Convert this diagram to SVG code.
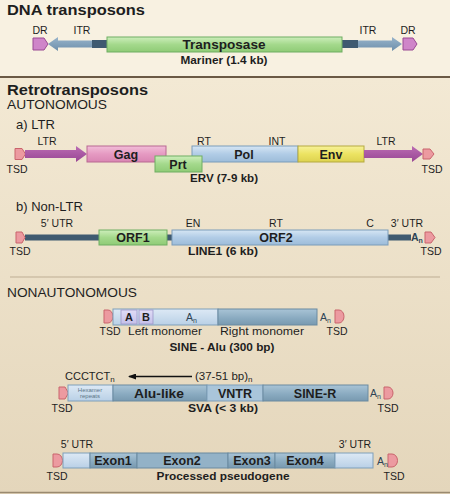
<svg xmlns="http://www.w3.org/2000/svg" width="450" height="494" viewBox="0 0 450 494">
<defs>
<linearGradient id="bg" x1="0" y1="0" x2="0" y2="1"><stop offset="0" stop-color="#f3e9d4"/><stop offset="1" stop-color="#e4d6bb"/></linearGradient>
<linearGradient id="gGreen" x1="0" y1="0" x2="0" y2="1"><stop offset="0" stop-color="#cdeebb"/><stop offset="0.5" stop-color="#a4d98c"/><stop offset="1" stop-color="#8fcb76"/></linearGradient>
<linearGradient id="gBlue" x1="0" y1="0" x2="0" y2="1"><stop offset="0" stop-color="#d6e6f4"/><stop offset="0.5" stop-color="#b1cce6"/><stop offset="1" stop-color="#9dbcd9"/></linearGradient>
<linearGradient id="gPink" x1="0" y1="0" x2="0" y2="1"><stop offset="0" stop-color="#f2bdd8"/><stop offset="0.5" stop-color="#e59ac2"/><stop offset="1" stop-color="#d986b3"/></linearGradient>
<linearGradient id="gYellow" x1="0" y1="0" x2="0" y2="1"><stop offset="0" stop-color="#f7f29a"/><stop offset="0.5" stop-color="#ece362"/><stop offset="1" stop-color="#ddd24f"/></linearGradient>
<linearGradient id="gSteel" x1="0" y1="0" x2="0" y2="1"><stop offset="0" stop-color="#98b4cb"/><stop offset="1" stop-color="#6e8fab"/></linearGradient>
<linearGradient id="gTeal" x1="0" y1="0" x2="0" y2="1"><stop offset="0" stop-color="#a9c4d6"/><stop offset="0.6" stop-color="#88a9bf"/><stop offset="1" stop-color="#7899b0"/></linearGradient>
<linearGradient id="gLight" x1="0" y1="0" x2="0" y2="1"><stop offset="0" stop-color="#dde9f5"/><stop offset="1" stop-color="#b9d0e6"/></linearGradient>
<linearGradient id="gLav" x1="0" y1="0" x2="0" y2="1"><stop offset="0" stop-color="#e0dcf6"/><stop offset="1" stop-color="#c4bfe9"/></linearGradient>
<linearGradient id="gPurple" x1="0" y1="0" x2="0" y2="1"><stop offset="0" stop-color="#bb6cb3"/><stop offset="1" stop-color="#984694"/></linearGradient>
<marker id="ah" markerWidth="8" markerHeight="6" refX="7" refY="3" orient="auto" markerUnits="userSpaceOnUse"><path d="M0,0 L8,3 L0,6 z" fill="#111"/></marker>
</defs>
<style>
text{font-family:"Liberation Sans",Arial,Helvetica,sans-serif;fill:#1e1e1e}
.t{font-size:14px;font-weight:bold}
.h{font-size:13px}
.l{font-size:10.5px}
.b{font-size:12.5px;font-weight:bold}
.c{font-size:11px;font-weight:bold}
.m{text-anchor:middle}
.sub{font-size:7px}
.an{font-size:10.5px;fill:#2e4455}
.grn{fill:url(#gGreen);stroke:#6fae62;stroke-width:1}
.blu{fill:url(#gBlue);stroke:#7b9cba;stroke-width:1}
.pnk{fill:url(#gPink);stroke:#b86892;stroke-width:1}
.yel{fill:url(#gYellow);stroke:#b5aa40;stroke-width:1}
.teal{fill:url(#gTeal);stroke:#6a8aa0;stroke-width:1}
.lt{fill:url(#gLight);stroke:#7f9fba;stroke-width:1}
.lav{fill:url(#gLav);stroke:#9c96c8;stroke-width:0.8}
.steel{fill:url(#gSteel)}
.dark{fill:#3f5a70}
.purp{fill:url(#gPurple)}
.dr{fill:#cf85c9;stroke:#9a4a93;stroke-width:1}
.tsd{fill:#ec9aa0;stroke:#c9646c;stroke-width:1}
</style>

<!-- background -->
<rect x="0" y="0" width="450" height="78" fill="#f8f1e1"/>
<rect x="0" y="78" width="450" height="416" fill="url(#bg)"/>
<line x1="0" y1="77" x2="450" y2="77" stroke="#6b5a45" stroke-width="2"/>
<line x1="10" y1="277" x2="440" y2="277" stroke="#bdae93" stroke-width="1.2"/>
<line x1="0" y1="492.5" x2="450" y2="492.5" stroke="#9a8a70" stroke-width="1.5"/>

<!-- section titles -->
<text class="t" x="7" y="15" textLength="138" lengthAdjust="spacingAndGlyphs">DNA transposons</text>
<text class="t" x="7" y="95" textLength="141" lengthAdjust="spacingAndGlyphs">Retrotransposons</text>
<text class="h" x="7" y="109" textLength="100" lengthAdjust="spacingAndGlyphs">AUTONOMOUS</text>
<text class="h" x="16" y="129">a) LTR</text>
<text class="h" x="16" y="211">b) Non-LTR</text>
<text class="h" x="7" y="297" textLength="130" lengthAdjust="spacingAndGlyphs">NONAUTONOMOUS</text>

<!-- connectors / backbone lines -->
<g id="connectors">
  <rect class="dark" x="92" y="40" width="16" height="8"/>
  <rect class="dark" x="342" y="40" width="16" height="8"/>
  <rect class="dark" x="25" y="234.5" width="75" height="6"/>
  <rect class="dark" x="166" y="234.5" width="7" height="6"/>
  <rect class="dark" x="387" y="234.5" width="24" height="6"/>
  <line x1="192" y1="376.5" x2="129" y2="376.5" stroke="#111" stroke-width="1.3" marker-end="url(#ah)"/>
</g>

<!-- DNA transposon: Mariner -->
<g id="mariner">
  <polygon class="dr" points="33,38 44,38 48,44 44,50 33,50"/>
  <polygon class="steel" points="48,44 58,37 58,40.5 92,40.5 92,47.5 58,47.5 58,51"/>
  <rect class="grn" x="107" y="37" width="235" height="15"/>
  <polygon class="steel" points="402,44 392,37 392,40.5 358,40.5 358,47.5 392,47.5 392,51"/>
  <polygon class="dr" points="403,38 413,38 417,44 413,50 403,50"/>
  <text class="l m" x="40" y="34">DR</text>
  <text class="l m" x="82" y="34">ITR</text>
  <text class="l m" x="368" y="34">ITR</text>
  <text class="l m" x="408" y="34">DR</text>
  <text class="m" x="224" y="49" style="font-size:13px;font-weight:bold" textLength="83" lengthAdjust="spacingAndGlyphs">Transposase</text>
  <text class="c m" x="224" y="64" textLength="87" lengthAdjust="spacingAndGlyphs">Mariner (1.4 kb)</text>
</g>

<!-- LTR: ERV -->
<g id="erv">
  <polygon class="tsd" points="15,148.5 22,148.5 25.5,154 22,159.5 15,159.5"/>
  <polygon class="purp" points="25,150 76,150 76,146 87,154 76,162 76,158 25,158"/>
  <rect class="pnk" x="87" y="146" width="79" height="16"/>
  <rect class="blu" x="192" y="146" width="106" height="16"/>
  <rect class="grn" x="155" y="156" width="47" height="16"/>
  <rect class="yel" x="298" y="146" width="66" height="16"/>
  <polygon class="purp" points="364,150 412,150 412,146 423,154 412,162 412,158 364,158"/>
  <polygon class="tsd" points="423,149 430,149 434,154 430,159 423,159"/>
  <text class="l m" x="47" y="145">LTR</text>
  <text class="l m" x="204" y="145">RT</text>
  <text class="l m" x="277" y="145">INT</text>
  <text class="l m" x="386" y="145">LTR</text>
  <text class="b m" x="126" y="158.5">Gag</text>
  <text class="b m" x="178" y="168.5">Prt</text>
  <text class="b m" x="244" y="158.5">Pol</text>
  <text class="b m" x="331" y="158.5">Env</text>
  <text class="l m" x="17" y="173">TSD</text>
  <text class="l m" x="432" y="173">TSD</text>
  <text class="c m" x="224" y="182" textLength="68" lengthAdjust="spacingAndGlyphs">ERV (7-9 kb)</text>
</g>

<!-- Non-LTR: LINE1 -->
<g id="line1">
  <polygon class="tsd" points="16,232 22,232 25,237.5 22,243 16,243"/>
  <rect class="grn" x="99" y="230" width="68" height="15"/>
  <rect class="blu" x="172" y="230" width="216" height="15"/>
  <polygon class="tsd" points="425,232 431,232 435,237.5 431,243 425,243"/>
  <text class="l m" x="57" y="227">5′ UTR</text>
  <text class="l m" x="193" y="227">EN</text>
  <text class="l m" x="276" y="227">RT</text>
  <text class="l m" x="370" y="227">C</text>
  <text class="l m" x="407" y="227">3′ UTR</text>
  <text class="b m" x="133" y="242">ORF1</text>
  <text class="b m" x="276" y="242">ORF2</text>
  <text x="411" y="241" class="an" style="font-weight:bold">A<tspan class="sub" dy="1.5">n</tspan></text>
  <text class="l m" x="20" y="255">TSD</text>
  <text class="l m" x="431" y="255">TSD</text>
  <text class="c m" x="223" y="255" textLength="70" lengthAdjust="spacingAndGlyphs">LINE1 (6 kb)</text>
</g>

<!-- SINE - Alu -->
<g id="sine-alu">
  <path class="tsd" d="M104,310 L108,310 A5,6.5 0 0 1 108,323 L104,323 Z"/>
  <rect class="lt" x="113" y="309" width="105" height="16"/>
  <rect class="teal" x="218" y="309" width="99" height="16"/>
  <rect class="lav" x="121" y="310" width="16" height="14"/>
  <rect class="lav" x="139" y="310" width="14" height="14"/>
  <path class="tsd" d="M335,310 L339,310 A5,6.5 0 0 1 339,323 L335,323 Z"/>
  <text class="c m" x="129" y="321">A</text>
  <text class="c m" x="146" y="321">B</text>
  <text x="186" y="321" class="an">A<tspan class="sub" dy="1.5">n</tspan></text>
  <text x="320" y="321" class="an">A<tspan class="sub" dy="1.5">n</tspan></text>
  <text class="l m" x="110" y="335">TSD</text>
  <text class="m" x="165" y="335" style="font-size:10.5px" textLength="74" lengthAdjust="spacingAndGlyphs">Left monomer</text>
  <text class="m" x="262" y="335" style="font-size:10.5px" textLength="84" lengthAdjust="spacingAndGlyphs">Right monomer</text>
  <text class="l m" x="337" y="335">TSD</text>
  <text class="c m" x="222" y="351" textLength="105" lengthAdjust="spacingAndGlyphs">SINE - Alu (300 bp)</text>
</g>

<!-- SVA -->
<g id="sva">
  <polygon class="tsd" points="59,387 65,387 68.5,393 65,399 59,399"/>
  <rect class="lt" x="68" y="385" width="45" height="16"/>
  <rect class="teal" x="113" y="385" width="94" height="16"/>
  <rect class="lt" x="207" y="385" width="56" height="16" style="fill:#a9c5da"/>
  <rect class="teal" x="263" y="385" width="105" height="16"/>
  <path class="tsd" d="M384,387 L388,387 A5,6 0 0 1 388,399 L384,399 Z"/>
  <text x="65" y="380" style="font-size:11px">CCCTCT<tspan class="sub" dy="2" style="font-size:8px">n</tspan></text>
  <text x="195" y="380" style="font-size:11.5px">(37-51 bp)<tspan class="sub" dy="2" style="font-size:8px">n</tspan></text>
  <text class="m" x="90" y="391.5" style="font-size:6px;fill:#5d7688">Hexamer</text>
  <text class="m" x="90" y="398" style="font-size:6px;fill:#5d7688">repeats</text>
  <text class="b m" x="159" y="397.5" textLength="50" lengthAdjust="spacingAndGlyphs">Alu-like</text>
  <text class="b m" x="235" y="397.5">VNTR</text>
  <text class="b m" x="315" y="397.5">SINE-R</text>
  <text x="370" y="397" class="an">A<tspan class="sub" dy="1.5">n</tspan></text>
  <text class="l m" x="62" y="412">TSD</text>
  <text class="c m" x="223" y="412" textLength="70" lengthAdjust="spacingAndGlyphs">SVA (&lt; 3 kb)</text>
  <text class="l m" x="388" y="412">TSD</text>
</g>

<!-- Processed pseudogene -->
<g id="pseudogene">
  <path class="tsd" d="M53,454 L57,454 A5.5,6.5 0 0 1 57,467 L53,467 Z"/>
  <rect class="lt" x="63" y="453" width="27" height="15"/>
  <rect class="teal" x="90" y="453" width="47" height="15"/>
  <rect class="teal" x="137" y="453" width="91" height="15" style="fill:#93b2c7"/>
  <rect class="teal" x="228" y="453" width="47" height="15"/>
  <rect class="teal" x="275" y="453" width="60" height="15"/>
  <rect class="lt" x="335" y="453" width="38" height="15"/>
  <path class="tsd" d="M388,454 L392,454 A5.5,6.5 0 0 1 392,467 L388,467 Z"/>
  <text class="l m" x="77" y="448">5′ UTR</text>
  <text class="l m" x="355" y="448">3′ UTR</text>
  <text class="b m" x="113" y="465">Exon1</text>
  <text class="b m" x="182" y="465">Exon2</text>
  <text class="b m" x="252" y="465">Exon3</text>
  <text class="b m" x="305" y="465">Exon4</text>
  <text x="377" y="465" class="an">A<tspan class="sub" dy="1.5">n</tspan></text>
  <text class="l m" x="57" y="480">TSD</text>
  <text class="c m" x="223" y="480" textLength="133" lengthAdjust="spacingAndGlyphs">Processed pseudogene</text>
  <text class="l m" x="394" y="480">TSD</text>
</g>
</svg>
